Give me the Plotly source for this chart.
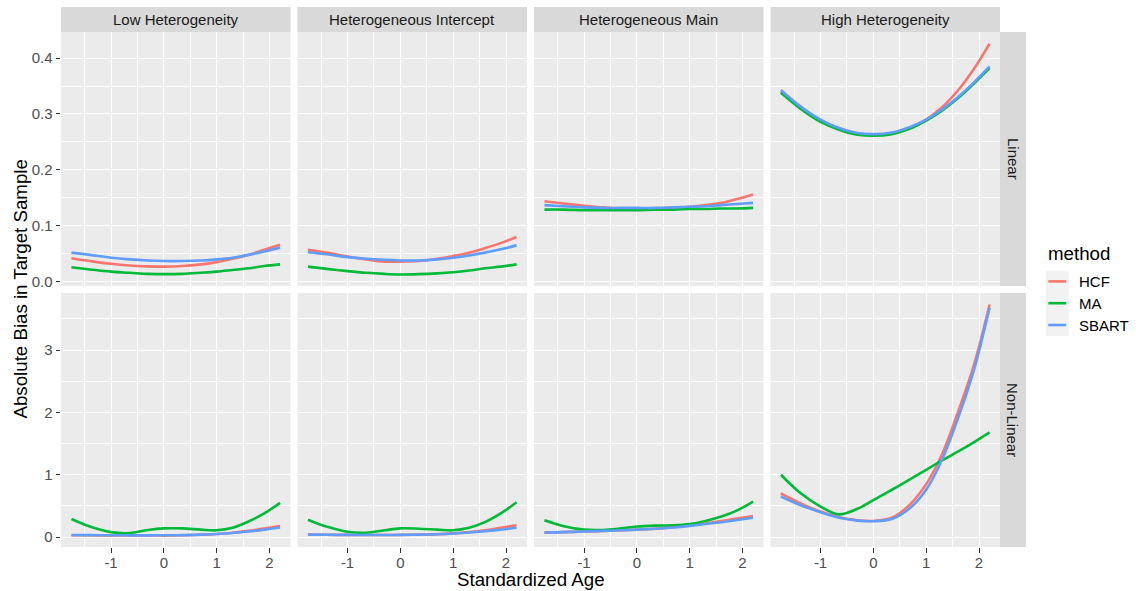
import plotly.graph_objects as go

# ---------------- data ----------------
cols = ["Low Heterogeneity", "Heterogeneous Intercept", "Heterogeneous Main", "High Heterogeneity"]
rows = ["Linear", "Non-Linear"]
methods = ["HCF", "MA", "SBART"]
colors = {"HCF": "#F8766D", "MA": "#00BA38", "SBART": "#619CFF"}

age = [-1.75, -1.4, -1.0, -0.65, -0.3, 0.0, 0.35, 0.7, 1.0, 1.3, 1.6, 1.9, 2.2]

# Linear row
lin_low_hcf = [0.042, 0.037, 0.032, 0.029, 0.0275, 0.027, 0.028, 0.031, 0.035, 0.041, 0.048, 0.057, 0.066]
lin_low_ma = [0.026, 0.022, 0.018, 0.016, 0.014, 0.0135, 0.014, 0.016, 0.018, 0.021, 0.024, 0.028, 0.031]
lin_low_sbart = [0.052, 0.048, 0.043, 0.040, 0.038, 0.037, 0.037, 0.038, 0.040, 0.043, 0.048, 0.054, 0.061]

lin_int_hcf = [0.057, 0.052, 0.045, 0.040, 0.036, 0.036, 0.037, 0.041, 0.046, 0.052, 0.060, 0.069, 0.080]
lin_int_ma = [0.027, 0.023, 0.019, 0.016, 0.014, 0.013, 0.0135, 0.015, 0.017, 0.020, 0.024, 0.027, 0.031]
lin_int_sbart = [0.0526, 0.049, 0.044, 0.041, 0.039, 0.038, 0.038, 0.040, 0.043, 0.047, 0.052, 0.058, 0.065]

lin_main_hcf = [0.144, 0.140, 0.136, 0.133, 0.131, 0.131, 0.131, 0.132, 0.134, 0.137, 0.141, 0.148, 0.156]
lin_main_ma = [0.129, 0.129, 0.128, 0.128, 0.128, 0.128, 0.129, 0.129, 0.130, 0.130, 0.131, 0.131, 0.132]
lin_main_sbart = [0.137, 0.135, 0.133, 0.132, 0.132, 0.132, 0.132, 0.133, 0.134, 0.135, 0.137, 0.139, 0.141]

lin_high_hcf = [0.340, 0.313, 0.288, 0.274, 0.265, 0.263, 0.266, 0.276, 0.290, 0.312, 0.342, 0.380, 0.426]
lin_high_ma = [0.338, 0.311, 0.286, 0.272, 0.263, 0.261, 0.264, 0.274, 0.288, 0.306, 0.328, 0.354, 0.382]
lin_high_sbart = [0.343, 0.315, 0.290, 0.275, 0.266, 0.264, 0.267, 0.277, 0.290, 0.308, 0.330, 0.356, 0.385]

# Non-Linear row
nl_low_hcf = [0.030, 0.030, 0.028, 0.027, 0.027, 0.028, 0.030, 0.038, 0.050, 0.070, 0.100, 0.140, 0.180]
nl_low_ma = [0.29, 0.17, 0.08, 0.065, 0.115, 0.14, 0.14, 0.12, 0.11, 0.15, 0.25, 0.38, 0.55]
nl_low_sbart = [0.035, 0.033, 0.030, 0.029, 0.029, 0.030, 0.032, 0.040, 0.050, 0.066, 0.090, 0.120, 0.155]

nl_int_hcf = [0.040, 0.038, 0.036, 0.035, 0.035, 0.036, 0.040, 0.048, 0.060, 0.080, 0.110, 0.150, 0.190]
nl_int_ma = [0.28, 0.17, 0.086, 0.07, 0.11, 0.14, 0.135, 0.12, 0.11, 0.15, 0.24, 0.38, 0.56]
nl_int_sbart = [0.040, 0.038, 0.036, 0.035, 0.035, 0.036, 0.040, 0.047, 0.058, 0.074, 0.095, 0.120, 0.150]

nl_main_hcf = [0.075, 0.080, 0.090, 0.100, 0.110, 0.120, 0.135, 0.160, 0.190, 0.220, 0.260, 0.300, 0.340]
nl_main_ma = [0.27, 0.18, 0.12, 0.115, 0.14, 0.17, 0.185, 0.19, 0.21, 0.26, 0.33, 0.43, 0.57]
nl_main_sbart = [0.075, 0.080, 0.090, 0.100, 0.110, 0.120, 0.135, 0.155, 0.180, 0.210, 0.240, 0.275, 0.310]

nl_high_hcf = [0.70, 0.55, 0.41, 0.32, 0.27, 0.26, 0.31, 0.53, 0.85, 1.33, 2.00, 2.75, 3.73]
nl_high_ma = [1.00, 0.72, 0.49, 0.365, 0.455, 0.595, 0.76, 0.93, 1.08, 1.23, 1.37, 1.52, 1.68]
nl_high_sbart = [0.65, 0.52, 0.40, 0.31, 0.265, 0.255, 0.29, 0.47, 0.76, 1.24, 1.90, 2.67, 3.68]

panels = [
    [
        {"HCF": lin_low_hcf, "MA": lin_low_ma, "SBART": lin_low_sbart},
        {"HCF": lin_int_hcf, "MA": lin_int_ma, "SBART": lin_int_sbart},
        {"HCF": lin_main_hcf, "MA": lin_main_ma, "SBART": lin_main_sbart},
        {"HCF": lin_high_hcf, "MA": lin_high_ma, "SBART": lin_high_sbart},
    ],
    [
        {"HCF": nl_low_hcf, "MA": nl_low_ma, "SBART": nl_low_sbart},
        {"HCF": nl_int_hcf, "MA": nl_int_ma, "SBART": nl_int_sbart},
        {"HCF": nl_main_hcf, "MA": nl_main_ma, "SBART": nl_main_sbart},
        {"HCF": nl_high_hcf, "MA": nl_high_ma, "SBART": nl_high_sbart},
    ],
]

x_ticks = [-1, 0, 1, 2]
y_ticks_top = [0.0, 0.1, 0.2, 0.3, 0.4]
y_ticks_bot = [0, 1, 2, 3]

# ---------------- layout geometry (pixels) ----------------
W, H = 1136, 591
ML, MR, MT, MB = 61, 110, 7, 44
PW = W - ML - MR   # 965
PH = H - MT - MB   # 540
panel_w, gap_x, strip_w = 229.5, 7.0, 26.0
strip_h, panel_h, gap_y = 25.0, 254.0, 7.0

TICK_FS = 15.0
TITLE_FS = 18.7

def px_x(p):
    return (p - ML) / PW

def px_y(p):
    return (H - MB - p) / PH

col_dom = []
for c in range(4):
    left = ML + c * (panel_w + gap_x)
    col_dom.append([px_x(left), px_x(left + panel_w)])
strip_x0 = ML + 4 * panel_w + 3 * gap_x
row_dom = []
top0 = MT + strip_h
row_dom.append([px_y(top0 + panel_h), px_y(top0)])
row_dom.append([px_y(top0 + panel_h + gap_y + panel_h), px_y(top0 + panel_h + gap_y)])

def yrange(vals):
    lo, hi = min(vals), max(vals)
    e = 0.05 * (hi - lo)
    return [lo - e, hi + e]

xr = [min(age) - 0.05 * (max(age) - min(age)), max(age) + 0.05 * (max(age) - min(age))]
row_vals = []
for r in range(2):
    v = []
    for c in range(4):
        for m in methods:
            v += panels[r][c][m]
    row_vals.append(v)
yr = [yrange(row_vals[0]), yrange(row_vals[1])]

fig = go.Figure()
font_family = "Liberation Sans, Arial, sans-serif"
layout = dict(
    width=W, height=H,
    margin=dict(l=ML, r=MR, t=MT, b=MB, pad=0),
    paper_bgcolor="white", plot_bgcolor="#EBEBEB",
    font=dict(family=font_family, color="#4D4D4D"),
    showlegend=False,
)

LINE_W = 2.6
shapes = []
annotations = []
for r in range(2):
    for c in range(4):
        n = r * 4 + c + 1
        xa = "x" if n == 1 else f"x{n}"
        ya = "y" if n == 1 else f"y{n}"
        for m in methods:
            fig.add_trace(go.Scatter(
                x=age, y=panels[r][c][m], mode="lines", name=m,
                line=dict(color=colors[m], width=LINE_W, shape="spline", smoothing=1.0),
                xaxis=xa, yaxis=ya, legendgroup=m, showlegend=False,
                hoverinfo="skip",
            ))
        layout[f"xaxis{n}"] = dict(
            domain=col_dom[c], range=xr, anchor=ya,
            tickvals=x_ticks, ticktext=[str(t) if t >= 0 else "-" + str(-t) for t in x_ticks],
            showticklabels=(r == 1), ticks="outside" if r == 1 else "",
            ticklen=4.5, tickwidth=1.2, tickcolor="#333333",
            ticklabelstandoff=-3,
            tickfont=dict(size=TICK_FS, color="#4D4D4D", family=font_family),
            showgrid=True, gridcolor="white", gridwidth=1.3,
            minor=dict(dtick=0.5, tick0=0, showgrid=True, gridcolor="white", gridwidth=0.65, ticks=""),
            zeroline=False, showline=False, fixedrange=True,
        )
        yt = y_ticks_top if r == 0 else y_ticks_bot
        layout[f"yaxis{n}"] = dict(
            domain=row_dom[r], range=yr[r], anchor=xa,
            tickvals=yt, ticktext=[f"{t:.1f}" for t in yt] if r == 0 else [str(t) for t in yt],
            showticklabels=(c == 0), ticks="outside" if c == 0 else "",
            ticklen=4.5, tickwidth=1.2, tickcolor="#333333",
            tickfont=dict(size=TICK_FS, color="#4D4D4D", family=font_family),
            showgrid=True, gridcolor="white", gridwidth=1.3,
            minor=dict(dtick=(0.05 if r == 0 else 0.5), tick0=0, showgrid=True, gridcolor="white", gridwidth=0.65, ticks=""),
            zeroline=False, showline=False, fixedrange=True,
        )

# top strips
for c in range(4):
    shapes.append(dict(type="rect", xref="paper", yref="paper",
                       x0=col_dom[c][0], x1=col_dom[c][1], y0=px_y(MT + strip_h), y1=px_y(MT),
                       fillcolor="#D9D9D9", line=dict(width=0), layer="below"))
    annotations.append(dict(text=cols[c], xref="paper", yref="paper",
                            x=(col_dom[c][0] + col_dom[c][1]) / 2, y=px_y(MT + strip_h / 2),
                            xanchor="center", yanchor="middle", showarrow=False,
                            font=dict(size=TICK_FS, color="#1A1A1A", family=font_family)))
# right strips
for r in range(2):
    shapes.append(dict(type="rect", xref="paper", yref="paper",
                       x0=px_x(strip_x0), x1=px_x(strip_x0 + strip_w), y0=row_dom[r][0], y1=row_dom[r][1],
                       fillcolor="#D9D9D9", line=dict(width=0), layer="below"))
    annotations.append(dict(text=rows[r], xref="paper", yref="paper",
                            x=px_x(strip_x0 + strip_w / 2), y=(row_dom[r][0] + row_dom[r][1]) / 2,
                            xanchor="center", yanchor="middle", showarrow=False, textangle=90,
                            font=dict(size=TICK_FS, color="#1A1A1A", family=font_family)))

# manual legend (ggplot style)
key_x0, key_x1 = 1046.0, 1068.5
key_top, key_h = 270.5, 21.8
annotations.append(dict(text="method", xref="paper", yref="paper",
                        x=px_x(1046), y=px_y(253), xanchor="left", yanchor="middle",
                        showarrow=False, font=dict(size=TITLE_FS, color="black", family=font_family)))
shapes.append(dict(type="rect", xref="paper", yref="paper",
                   x0=px_x(key_x0), x1=px_x(key_x1), y0=px_y(key_top + 3 * key_h), y1=px_y(key_top),
                   fillcolor="#F2F2F2", line=dict(width=0), layer="below"))
for i, m in enumerate(methods):
    yc = key_top + key_h * (i + 0.5)
    shapes.append(dict(type="line", xref="paper", yref="paper",
                       x0=px_x(key_x0 + 2.3), x1=px_x(key_x1 - 2.3), y0=px_y(yc), y1=px_y(yc),
                       line=dict(color=colors[m], width=LINE_W)))
    annotations.append(dict(text=m, xref="paper", yref="paper",
                            x=px_x(1077), y=px_y(yc), xanchor="left", yanchor="middle",
                            showarrow=False, font=dict(size=TICK_FS, color="black", family=font_family)))

# axis titles
annotations.append(dict(text="Absolute Bias in Target Sample", xref="paper", yref="paper",
                        x=px_x(20), y=px_y((MT + strip_h + H - MB) / 2), xanchor="center", yanchor="middle",
                        textangle=-90, showarrow=False,
                        font=dict(size=TITLE_FS, color="black", family=font_family)))
annotations.append(dict(text="Standardized Age", xref="paper", yref="paper",
                        x=px_x((ML + strip_x0) / 2), y=px_y(579), xanchor="center", yanchor="middle",
                        showarrow=False, font=dict(size=TITLE_FS, color="black", family=font_family)))

layout["shapes"] = shapes
layout["annotations"] = annotations
fig.update_layout(**layout)
fig.write_html("out.html")
